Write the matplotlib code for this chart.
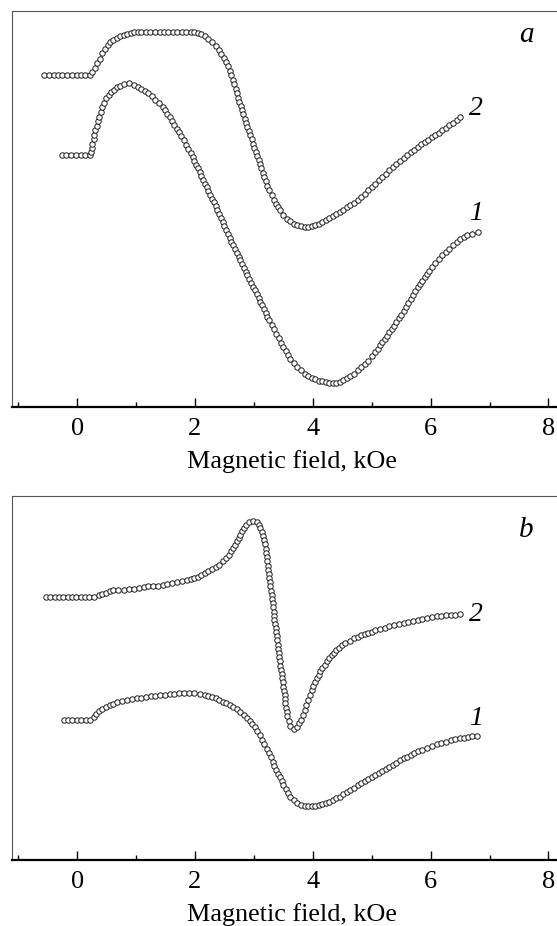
import matplotlib
matplotlib.use("Agg")
import matplotlib.pyplot as plt
from matplotlib.ticker import MultipleLocator, NullLocator

# panel a, curve 1
field_a1 = [-0.26, -0.18, -0.10, -0.02, 0.06, 0.14, 0.22, 0.24, 0.25, 0.26, 0.28, 0.295, 0.31,
            0.33, 0.35, 0.37, 0.40, 0.43, 0.46, 0.49, 0.535, 0.58, 0.625, 0.67, 0.73, 0.79, 0.88,
            0.97, 1.03, 1.09, 1.15, 1.21, 1.27, 1.33, 1.39, 1.45, 1.49, 1.53, 1.57, 1.61, 1.65,
            1.69, 1.73, 1.77, 1.81, 1.85, 1.89, 1.93, 1.96, 1.99, 2.02, 2.05, 2.08, 2.11, 2.14,
            2.17, 2.20, 2.23, 2.26, 2.29, 2.32, 2.35, 2.38, 2.41, 2.44, 2.47, 2.50, 2.53, 2.56,
            2.59, 2.62, 2.65, 2.68, 2.71, 2.74, 2.77, 2.80, 2.83, 2.86, 2.89, 2.92, 2.955, 2.99,
            3.02, 3.05, 3.08, 3.11, 3.14, 3.17, 3.20, 3.23, 3.26, 3.30, 3.34, 3.38, 3.42, 3.46,
            3.50, 3.54, 3.58, 3.62, 3.68, 3.74, 3.80, 3.86, 3.92, 3.98, 4.04, 4.10, 4.16, 4.22,
            4.28, 4.34, 4.40, 4.46, 4.52, 4.58, 4.64, 4.70, 4.76, 4.82, 4.88, 4.94, 5.00, 5.06,
            5.10, 5.14, 5.18, 5.22, 5.26, 5.30, 5.34, 5.38, 5.42, 5.46, 5.50, 5.54, 5.58, 5.62,
            5.66, 5.70, 5.74, 5.78, 5.82, 5.86, 5.90, 5.94, 5.98, 6.02, 6.08, 6.14, 6.20, 6.26,
            6.32, 6.38, 6.44, 6.50, 6.56, 6.62, 6.71, 6.80]
signal_a1 = [63.5, 63.5, 63.5, 63.5, 63.5, 63.5, 63.5, 64.4, 65.45, 66.5, 67.6, 68.75, 69.9,
             71.0, 72.1, 73.2, 74.5, 75.8, 76.85, 77.9, 78.75, 79.6, 80.15, 80.7, 81.1, 81.5, 81.7,
             81.3, 80.85, 80.4, 79.8, 79.2, 78.4, 77.6, 76.7, 75.8, 74.95, 74.1, 73.2, 72.25, 71.3,
             70.3, 69.3, 68.3, 67.3, 66.2, 65.1, 64.0, 63.05, 62.1, 61.15, 60.2, 59.25, 58.3, 57.35,
             56.4, 55.45, 54.5, 53.55, 52.6, 51.65, 50.7, 49.75, 48.8, 47.75, 46.7, 45.65, 44.6, 43.65,
             42.7, 41.75, 40.8, 39.85, 38.9, 37.95, 37.0, 36.05, 35.1, 34.15, 33.2, 32.25, 31.3, 30.35,
             29.4, 28.45, 27.5, 26.55, 25.6, 24.65, 23.7, 22.75, 21.8, 20.65, 19.55, 18.4, 17.25, 16.15,
             15.0, 14.0, 13.05, 12.1, 11.05, 10.0, 9.15, 8.3, 7.75, 7.2, 6.9, 6.6, 6.4, 6.2,
             6.1, 6.0, 6.1, 6.3, 6.7, 7.2, 7.75, 8.3, 9.15, 10.0, 10.8, 11.6, 12.7, 13.8,
             14.65, 15.5, 16.3, 17.15, 17.95, 18.8, 19.65, 20.5, 21.4, 22.35, 23.3, 24.3, 25.3, 26.3,
             27.3, 28.25, 29.2, 30.2, 31.05, 31.85, 32.7, 33.55, 34.4, 35.3, 36.35, 37.4, 38.25, 39.1,
             39.95, 40.8, 41.55, 42.3, 42.8, 43.3, 43.7, 44.1]

# panel a, curve 2
field_a2 = [-0.56, -0.48, -0.40, -0.33, -0.25, -0.17, -0.09, -0.01, 0.06, 0.14, 0.22, 0.26, 0.30,
            0.34, 0.385, 0.43, 0.475, 0.52, 0.565, 0.61, 0.67, 0.73, 0.79, 0.85, 0.91, 0.97, 1.03,
            1.09, 1.17, 1.24, 1.32, 1.40, 1.47, 1.55, 1.63, 1.70, 1.78, 1.85, 1.93, 1.99, 2.05,
            2.11, 2.17, 2.23, 2.29, 2.35, 2.41, 2.45, 2.49, 2.53, 2.56, 2.59, 2.62, 2.64, 2.665,
            2.69, 2.71, 2.73, 2.755, 2.78, 2.80, 2.82, 2.845, 2.87, 2.89, 2.91, 2.935, 2.96, 2.98,
            3.005, 3.03, 3.055, 3.08, 3.10, 3.125, 3.15, 3.17, 3.20, 3.23, 3.26, 3.305, 3.35, 3.38,
            3.41, 3.44, 3.50, 3.56, 3.62, 3.68, 3.74, 3.80, 3.86, 3.92, 3.98, 4.04, 4.10, 4.16,
            4.22, 4.28, 4.34, 4.40, 4.46, 4.52, 4.58, 4.64, 4.70, 4.76, 4.82, 4.88, 4.94, 5.00,
            5.06, 5.12, 5.18, 5.24, 5.30, 5.36, 5.42, 5.48, 5.54, 5.60, 5.66, 5.72, 5.78, 5.84,
            5.90, 5.96, 6.02, 6.08, 6.14, 6.20, 6.26, 6.32, 6.38, 6.44, 6.50]
signal_a2 = [83.9, 83.9, 83.9, 83.9, 83.9, 83.9, 83.9, 83.9, 83.9, 83.9, 83.9, 84.6, 85.7,
             86.8, 88.0, 89.3, 90.35, 91.4, 92.05, 92.7, 93.2, 93.7, 94.0, 94.3, 94.45, 94.6, 94.65,
             94.7, 94.7, 94.7, 94.7, 94.7, 94.7, 94.7, 94.7, 94.7, 94.7, 94.7, 94.7, 94.6, 94.4,
             94.1, 93.7, 93.0, 92.2, 91.15, 90.1, 89.1, 88.2, 87.2, 86.1, 84.9, 83.8, 82.65, 81.5,
             80.35, 79.2, 78.1, 77.05, 75.95, 74.9, 73.85, 72.8, 71.75, 70.7, 69.65, 68.6, 67.55, 66.5,
             65.45, 64.4, 63.35, 62.3, 61.25, 60.2, 59.15, 58.1, 57.0, 55.8, 54.7, 53.45, 52.2, 51.3,
             50.5, 49.6, 48.55, 47.5, 46.85, 46.2, 45.9, 45.6, 45.5, 45.4, 45.55, 45.8, 46.2, 46.7,
             47.2, 47.65, 48.1, 48.7, 49.25, 49.8, 50.4, 51.0, 51.6, 52.35, 53.05, 53.8, 54.65, 55.5,
             56.4, 57.25, 58.05, 58.9, 59.7, 60.5, 61.3, 62.05, 62.8, 63.5, 64.25, 65.0, 65.7, 66.3,
             66.9, 67.5, 68.05, 68.6, 69.2, 69.85, 70.5, 71.1, 71.75, 72.4, 73.1]

# panel b, curve 1
field_b1 = [-0.23, -0.155, -0.08, -0.005, 0.07, 0.145, 0.22, 0.28, 0.325, 0.37, 0.43, 0.49, 0.55,
            0.61, 0.67, 0.76, 0.85, 0.93, 1.01, 1.09, 1.17, 1.25, 1.33, 1.41, 1.49, 1.57, 1.65,
            1.73, 1.81, 1.90, 1.99, 2.08, 2.17, 2.23, 2.29, 2.35, 2.41, 2.47, 2.53, 2.59, 2.65,
            2.71, 2.77, 2.83, 2.89, 2.93, 2.975, 3.02, 3.06, 3.10, 3.14, 3.18, 3.22, 3.26, 3.29,
            3.32, 3.35, 3.38, 3.41, 3.44, 3.47, 3.50, 3.54, 3.58, 3.62, 3.68, 3.74, 3.80, 3.86,
            3.92, 3.98, 4.04, 4.10, 4.16, 4.22, 4.28, 4.34, 4.40, 4.46, 4.52, 4.58, 4.64, 4.70,
            4.76, 4.82, 4.88, 4.94, 5.00, 5.06, 5.12, 5.18, 5.24, 5.30, 5.36, 5.42, 5.48, 5.54,
            5.60, 5.66, 5.72, 5.78, 5.86, 5.94, 6.02, 6.10, 6.18, 6.26, 6.34, 6.42, 6.50, 6.57,
            6.64, 6.71, 6.79]
signal_b1 = [38.3, 38.3, 38.3, 38.3, 38.3, 38.3, 38.3, 39.2, 40.0, 40.8, 41.45, 42.1, 42.5,
             42.9, 43.3, 43.65, 44.0, 44.2, 44.35, 44.5, 44.7, 44.9, 45.1, 45.25, 45.4, 45.5, 45.6,
             45.7, 45.8, 45.85, 45.8, 45.65, 45.4, 45.1, 44.8, 44.4, 43.95, 43.5, 43.0, 42.5, 41.95,
             41.4, 40.6, 39.75, 38.9, 38.1, 37.35, 36.6, 35.4, 34.2, 33.0, 31.75, 30.5, 29.3, 28.15,
             27.0, 25.85, 24.7, 23.7, 22.65, 21.65, 20.6, 19.55, 18.45, 17.4, 16.5, 15.6, 15.1, 14.8,
             14.7, 14.7, 14.85, 15.1, 15.4, 15.7, 16.0, 16.45, 16.9, 17.4, 18.0, 18.6, 19.2, 19.85,
             20.5, 21.1, 21.7, 22.25, 22.85, 23.4, 23.95, 24.5, 25.05, 25.6, 26.2, 26.75, 27.35, 27.9,
             28.4, 28.85, 29.35, 29.8, 30.3, 30.8, 31.3, 31.7, 32.1, 32.5, 32.8, 33.1, 33.4, 33.6,
             33.8, 33.95, 34.1]

# panel b, curve 2
field_b2 = [-0.53, -0.456, -0.383, -0.309, -0.236, -0.162, -0.088, -0.015, 0.059, 0.133, 0.206, 0.28,
            0.37, 0.43, 0.49, 0.55, 0.61, 0.70, 0.79, 0.88, 0.97, 1.05, 1.13, 1.21, 1.29, 1.37,
            1.45, 1.53, 1.61, 1.69, 1.78, 1.87, 1.93, 1.99, 2.05, 2.11, 2.17, 2.23, 2.29, 2.35,
            2.41, 2.47, 2.53, 2.57, 2.61, 2.65, 2.68, 2.71, 2.74, 2.77, 2.80, 2.83, 2.875, 2.92,
            2.98, 3.05, 3.08, 3.11, 3.13, 3.15, 3.17, 3.185, 3.20, 3.21, 3.22, 3.23, 3.235, 3.24,
            3.25, 3.26, 3.27, 3.28, 3.29, 3.30, 3.31, 3.32, 3.33, 3.34, 3.345, 3.35, 3.36, 3.37,
            3.38, 3.39, 3.40, 3.41, 3.415, 3.42, 3.43, 3.44, 3.45, 3.46, 3.47, 3.48, 3.49, 3.50,
            3.51, 3.52, 3.525, 3.53, 3.545, 3.56, 3.57, 3.595, 3.62, 3.68, 3.74, 3.77, 3.80, 3.83,
            3.86, 3.89, 3.92, 3.95, 3.98, 4.01, 4.04, 4.07, 4.10, 4.13, 4.16, 4.20, 4.24, 4.28,
            4.32, 4.36, 4.40, 4.45, 4.50, 4.55, 4.625, 4.70, 4.76, 4.82, 4.88, 4.94, 5.00, 5.06,
            5.14, 5.22, 5.30, 5.38, 5.46, 5.54, 5.62, 5.70, 5.78, 5.86, 5.94, 6.02, 6.10, 6.18,
            6.26, 6.34, 6.42, 6.50]
signal_b2 = [72.3, 72.3, 72.3, 72.3, 72.3, 72.3, 72.3, 72.3, 72.3, 72.3, 72.3, 72.3,
             72.8, 73.1, 73.4, 73.7, 74.0, 74.1, 74.2, 74.35, 74.5, 74.7, 74.9, 75.1, 75.2, 75.3,
             75.4, 75.65, 75.9, 76.2, 76.55, 76.9, 77.2, 77.5, 77.8, 78.25, 78.7, 79.2, 79.8, 80.4,
             81.0, 81.95, 82.9, 83.8, 84.7, 85.6, 86.5, 87.45, 88.4, 89.3, 90.2, 91.1, 92.0, 92.7,
             93.1, 92.7, 91.9, 91.1, 90.0, 88.95, 87.9, 86.65, 85.4, 84.2, 83.1, 81.95, 80.8, 79.7,
             78.55, 77.4, 76.25, 75.1, 73.95, 72.8, 71.65, 70.5, 69.35, 68.2, 67.05, 65.9, 64.8, 63.65,
             62.5, 61.4, 60.25, 59.1, 57.95, 56.8, 55.65, 54.5, 53.35, 52.2, 51.05, 49.9, 48.75, 47.6,
             46.45, 45.3, 44.15, 43.0, 41.8, 40.6, 39.4, 38.1, 36.8, 35.9, 36.6, 37.55, 38.5, 39.85,
             41.2, 42.6, 44.0, 45.35, 46.7, 47.75, 48.8, 49.9, 50.85, 51.8, 52.7, 53.6, 54.5, 55.4,
             56.15, 56.9, 57.7, 58.3, 58.9, 59.5, 60.2, 60.9, 61.3, 61.7, 62.1, 62.4, 62.7, 63.0,
             63.35, 63.75, 64.1, 64.4, 64.7, 65.0, 65.3, 65.6, 65.9, 66.15, 66.45, 66.7, 66.9, 67.05,
             67.2, 67.3, 67.35, 67.4]

panel_letters = ["a", "b"]
curve_names = ["1", "2"]

plt.rcParams["font.family"] = "Liberation Serif"

fig = plt.figure(figsize=(5.57, 9.26), dpi=100)
ax_a = fig.add_axes([0.021, 0.5608, 1.006, 0.4273])
ax_b = fig.add_axes([0.021, 0.0713, 1.006, 0.3934])

panels = [
    (ax_a, [(field_a1, signal_a1), (field_a2, signal_a2)], [(6.77, 48.8), (6.77, 75.4)], (7.62, 93.9)),
    (ax_b, [(field_b1, signal_b1), (field_b2, signal_b2)], [(6.77, 38.9), (6.77, 67.3)], (7.62, 90.7)),
]

for k, (ax, curves, name_pos, letter_pos) in enumerate(panels):
    for (fx, sy), name, (tx, ty) in zip(curves, curve_names, name_pos):
        ax.plot(fx, sy, linestyle="none", marker="o", markersize=3.9,
                markerfacecolor="white", markeredgecolor="#1e1e1e", markeredgewidth=0.7)
        ax.text(tx, ty, name, fontsize=20, style="italic", ha="center", va="center")
    ax.text(letter_pos[0], letter_pos[1], panel_letters[k], fontsize=21,
            style="italic", ha="center", va="center")

    ax.set_xlim(-1.11, 8.4)
    ax.set_ylim(0, 100)
    ax.xaxis.set_major_locator(MultipleLocator(2))
    ax.xaxis.set_minor_locator(MultipleLocator(1))
    ax.yaxis.set_major_locator(NullLocator())
    ax.tick_params(axis="x", which="major", direction="in", length=6.5, width=1.0,
                   labelsize=19, pad=8)
    ax.tick_params(axis="x", which="minor", direction="in", length=3.5, width=1.0)
    ax.tick_params(axis="x", top=False, which="both")
    for side in ["top", "left", "right"]:
        ax.spines[side].set_linewidth(0.8)
        ax.spines[side].set_color("#555555")
    ax.spines["bottom"].set_linewidth(1.6)
    ax.set_xlabel("Magnetic field, kOe", fontsize=18.8, labelpad=7)

fig.savefig("out.png", dpi=100)
